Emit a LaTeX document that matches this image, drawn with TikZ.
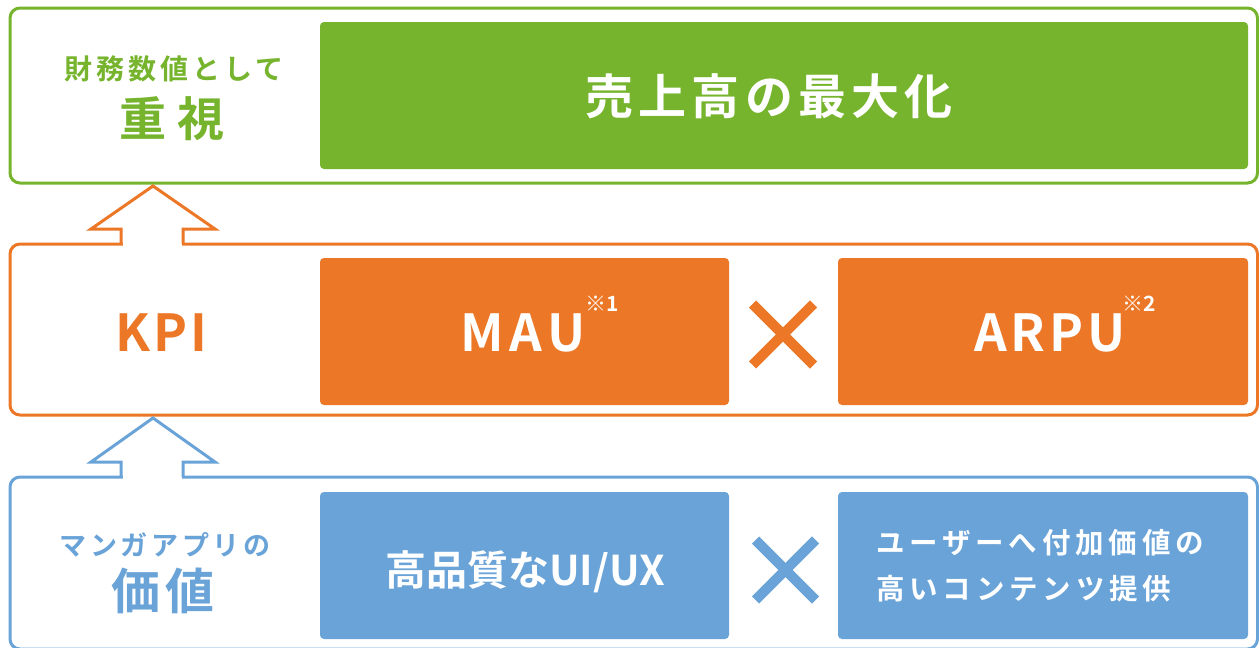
\documentclass[tikz,border=0pt]{standalone}
\usepackage{fontspec}
\setmainfont{Noto Sans CJK JP}[BoldFont={* Bold}]
\usetikzlibrary{calc}
\definecolor{gr}{HTML}{76B42E}
\definecolor{og}{HTML}{EB7727}
\definecolor{bl}{HTML}{69A3D8}
\begin{document}
\begin{tikzpicture}[x=1pt,y=-1pt,
  outerbox/.style={draw=#1, line width=3pt, rounded corners=10pt, fill=white, inner sep=0pt, outer sep=0pt},
  innerbox/.style={fill=#1, rounded corners=4pt, inner sep=0pt, outer sep=0pt},
  blockarrow/.style={draw=#1, line width=3pt, line join=miter},
  crossmark/.style={draw=#1, line width=10pt, line cap=butt},
  txt/.style={inner sep=0pt, outer sep=0pt, font=\bfseries}]
\useasboundingbox (0,0) rectangle (1259,648);

% outer boxes
\node[outerbox=gr, minimum width=1247.5pt, minimum height=175pt] (gbox) at (633.75,95.5) {};
\node[outerbox=og, minimum width=1247.5pt, minimum height=171pt] (obox) at (633.75,329.5) {};
\node[outerbox=bl, minimum width=1247.5pt, minimum height=172pt] (bbox) at (633.75,563) {};

% inner boxes
\node[innerbox=gr, minimum width=928pt, minimum height=147pt] (sales) at (784,95.5) {};
\node[innerbox=og, minimum width=409pt, minimum height=147pt] (mau) at (524.5,331.5) {};
\node[innerbox=og, minimum width=410pt, minimum height=147pt] (arpu) at (1043,331.5) {};
\node[innerbox=bl, minimum width=409pt, minimum height=147pt] (uiux) at (524.5,565.5) {};
\node[innerbox=bl, minimum width=410pt, minimum height=147pt] (cont) at (1043,565.5) {};

% block arrows
\fill[white] ($(obox.north west)+(112.5,-5)$) rectangle ($(obox.north west)+(171.5,5)$);
\draw[blockarrow=og] ($(obox.north west)+(111,0)$) -- ++(0,-15) -- ++(-30,0)
  -- ($(gbox.south west)+(143,3)$) -- ($(obox.north west)+(205,-15)$) -- ++(-32,0) -- ++(0,15);
\fill[white] ($(bbox.north west)+(112.5,-5)$) rectangle ($(bbox.north west)+(171.5,5)$);
\draw[blockarrow=bl] ($(bbox.north west)+(111,0)$) -- ++(0,-15) -- ++(-30,0)
  -- ($(obox.south west)+(143,3)$) -- ($(bbox.north west)+(205,-15)$) -- ++(-32,0) -- ++(0,15);

% cross marks
\coordinate (xo) at (783,334.5);
\coordinate (xb) at (785.5,570);
\draw[crossmark=og] ($(xo)+(-30.5,-30.5)$) -- ($(xo)+(30.5,30.5)$);
\draw[crossmark=og] ($(xo)+(-30.5,30.5)$) -- ($(xo)+(30.5,-30.5)$);
\draw[crossmark=bl] ($(xb)+(-30,-30)$) -- ($(xb)+(30,30)$);
\draw[crossmark=bl] ($(xb)+(-30,30)$) -- ($(xb)+(30,-30)$);

% texts
\node[txt, text=gr, font=\bfseries\fontsize{28}{28}\selectfont\addfontfeatures{LetterSpace=14}] (t1) at (174,69) {財務数値として};
\node[txt, text=gr, font=\bfseries\fontsize{47}{47}\selectfont\addfontfeatures{LetterSpace=22}] (t2) at (172,119) {重視};
\node[txt, text=white, font=\bfseries\fontsize{48}{48}\selectfont\addfontfeatures{LetterSpace=11}] (t3) at (769,96) {売上高の最大化};

\node[txt, text=og, font=\bfseries\fontsize{51}{51}\selectfont\addfontfeatures{LetterSpace=6}] (kpi) at (161,333) {KPI};
\node[txt, text=white, font=\bfseries\fontsize{51}{51}\selectfont\addfontfeatures{LetterSpace=11}] (tmau) at (523,333) {MAU};
\node[txt, text=white, font=\bfseries\fontsize{21}{21}\selectfont] (n1) at (602,304) {※1};
\node[txt, text=white, font=\bfseries\fontsize{51}{51}\selectfont\addfontfeatures{LetterSpace=8}] (tarpu) at (1050,333) {ARPU};
\node[txt, text=white, font=\bfseries\fontsize{21}{21}\selectfont] (n2) at (1139,304) {※2};

\node[txt, text=bl, font=\bfseries\fontsize{27}{27}\selectfont\addfontfeatures{LetterSpace=13}] (t4) at (165,545) {マンガアプリの};
\node[txt, text=bl, font=\bfseries\fontsize{49}{49}\selectfont\addfontfeatures{LetterSpace=10}] (t5) at (163,591) {価値};
\node[txt, text=white, font=\bfseries\fontsize{41}{41}\selectfont] (t6) at (525,572) {高品質なUI/UX};
\node[txt, text=white, anchor=west, align=left, font=\bfseries\fontsize{28.5}{46}\selectfont\addfontfeatures{LetterSpace=17}] (t7) at (876,566) {ユーザーへ付加価値の\\高いコンテンツ提供};
\end{tikzpicture}
\end{document}
